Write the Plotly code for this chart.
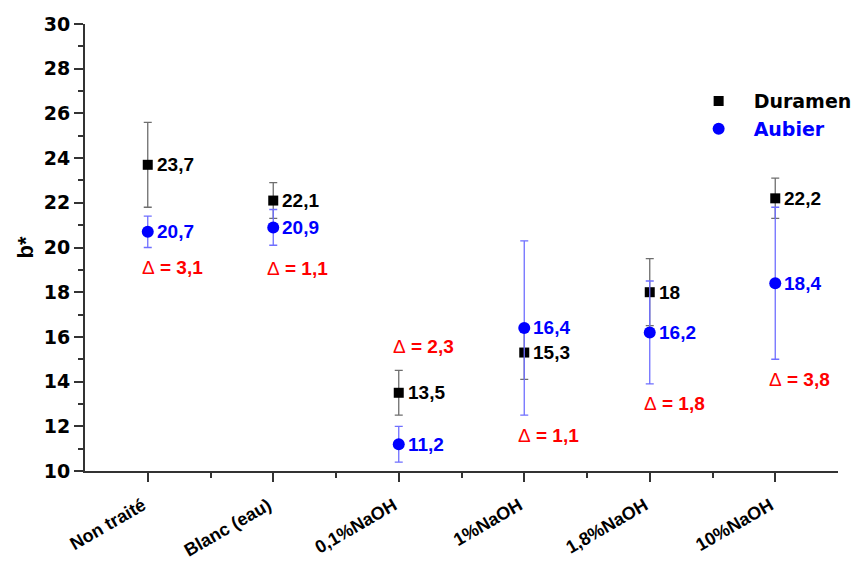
import plotly.graph_objects as go

categories = ["Non traité", "Blanc (eau)", "0,1%NaOH", "1%NaOH", "1,8%NaOH", "10%NaOH"]
duramen = [23.7, 22.1, 13.5, 15.3, 18.0, 22.2]
duramen_err = [1.9, 0.8, 1.0, 1.2, 1.5, 0.9]
aubier = [20.7, 20.9, 11.2, 16.4, 16.2, 18.4]
aubier_err = [0.7, 0.8, 0.8, 3.9, 2.3, 3.4]
delta = [3.1, 1.1, 2.3, 1.1, 1.8, 3.8]
delta_label_y = [19.1, 19.05, 15.55, 11.6, 13.0, 14.1]

y_ticks = list(range(10, 31, 2))

ARIAL = "Arial, Liberation Sans, sans-serif"
WIDE = "DejaVu Sans, Verdana, sans-serif"
xpos = list(range(len(categories)))


def fmt(v):
    return f"{v:g}".replace(".", ",")


fig = go.Figure()
fig.add_trace(go.Scatter(
    x=xpos, y=duramen, mode="markers", name="<b>Duramen</b>",
    marker=dict(symbol="square", size=10, color="black"),
    error_y=dict(type="data", array=duramen_err, visible=True,
                 color="#6e6e6e", thickness=1.3, width=4),
))
fig.add_trace(go.Scatter(
    x=xpos, y=aubier, mode="markers",
    name="<span style='color:#0000ff'><b>Aubier</b></span>",
    marker=dict(symbol="circle", size=12, color="#0000ff"),
    error_y=dict(type="data", array=aubier_err, visible=True,
                 color="#6f6fff", thickness=1.3, width=4),
))

annotations = []
for i, v in enumerate(duramen):
    annotations.append(dict(x=xpos[i], y=v, xref="x", yref="y", text=f"<b>{fmt(v)}</b>",
                            showarrow=False, xanchor="left", xshift=7,
                            font=dict(family=ARIAL, size=19, color="black")))
for i, v in enumerate(aubier):
    annotations.append(dict(x=xpos[i], y=v, xref="x", yref="y", text=f"<b>{fmt(v)}</b>",
                            showarrow=False, xanchor="left", xshift=7,
                            font=dict(family=ARIAL, size=19, color="#0000ff")))
for i, d in enumerate(delta):
    annotations.append(dict(x=xpos[i], y=delta_label_y[i], xref="x", yref="y",
                            text=f"Δ<b> = {fmt(d)}</b>",
                            showarrow=False, xanchor="left", xshift=-8,
                            font=dict(family=ARIAL, size=19, color="#ff0000")))

fig.update_layout(
    width=861, height=563,
    margin=dict(l=77, r=29, t=16, b=100),
    paper_bgcolor="white", plot_bgcolor="white",
    font=dict(family=ARIAL, color="black"),
    showlegend=True,
    legend=dict(x=0.795, y=0.87, xanchor="left", yanchor="top",
                font=dict(family=WIDE, size=19, color="black"),
                bgcolor="rgba(0,0,0,0)", itemwidth=60, tracegroupgap=0),
    annotations=annotations,
    xaxis=dict(
        range=[-0.5, 5.5], tickmode="array", tickvals=xpos,
        ticktext=[f"<b>{c}</b>" for c in categories],
        tickangle=-30, tickfont=dict(family=ARIAL, size=18, color="black"),
        ticklabelstandoff=6, ticklabelshift=-5,
        showline=True, linecolor="#333333", linewidth=2,
        ticks="outside", ticklen=9, tickwidth=2, tickcolor="#333333",
        minor=dict(tickmode="array", tickvals=[x + 0.5 for x in xpos[:-1]],
                   ticks="outside", ticklen=5, tickwidth=1.5, tickcolor="#333333"),
        showgrid=False, zeroline=False, automargin=False,
    ),
    yaxis=dict(
        range=[10, 30], tickmode="array", tickvals=y_ticks,
        ticktext=[f"<b>{t}</b>" for t in y_ticks],
        tickfont=dict(family=WIDE, size=19, color="black"),
        showline=True, linecolor="#333333", linewidth=2,
        ticks="outside", ticklen=9, tickwidth=2, tickcolor="#333333",
        minor=dict(dtick=1, ticks="outside", ticklen=5, tickwidth=1.5, tickcolor="#333333"),
        title=dict(text="<b>b*</b>", font=dict(family=ARIAL, size=22, color="black"), standoff=4),
        showgrid=False, zeroline=False, automargin=False,
    ),
)

fig.write_html("out.html")
